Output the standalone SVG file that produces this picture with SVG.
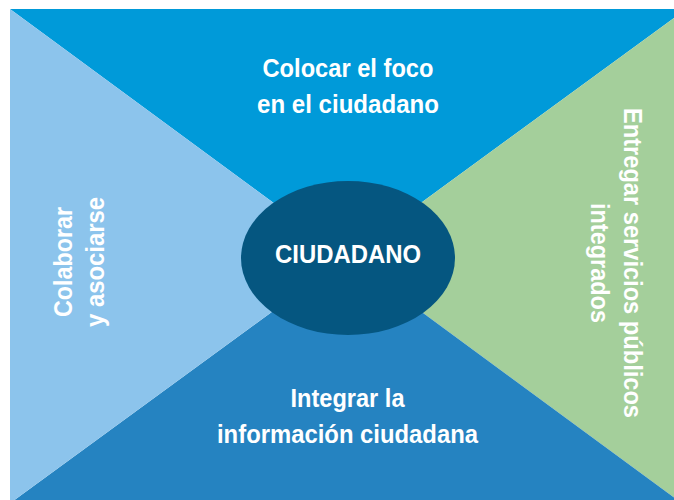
<svg xmlns="http://www.w3.org/2000/svg" width="674" height="500" viewBox="0 0 674 500">
<style>
.t{font-family:"Liberation Sans",Arial,sans-serif;font-weight:bold;font-size:26px;fill:#ffffff;text-anchor:middle}
</style>
<rect x="0" y="0" width="674" height="500" fill="#ffffff"/>
<g id="top">
<polygon points="10,9 674,9 674,18 347,257" fill="#009ad9"/>
<text class="t" x="348" y="77.3" textLength="171" lengthAdjust="spacingAndGlyphs">Colocar el foco</text>
<text class="t" x="348" y="112.7" textLength="182" lengthAdjust="spacingAndGlyphs">en el ciudadano</text>
</g>
<g id="right">
<polygon points="674,18 674,497.6 347,257" fill="#a4cf9b"/>
<text class="t" transform="translate(623.5,263) rotate(90)" x="0" y="0" textLength="310" lengthAdjust="spacingAndGlyphs">Entregar servicios públicos</text>
<text class="t" transform="translate(591,263) rotate(90)" x="0" y="0" textLength="120" lengthAdjust="spacingAndGlyphs">integrados</text>
</g>
<g id="bottom">
<polygon points="674,497.6 674,500 14.5,500 347,257" fill="#2583c1"/>
<text class="t" x="347.5" y="407.3" textLength="114" lengthAdjust="spacingAndGlyphs">Integrar la</text>
<text class="t" x="347.5" y="442.7" textLength="261" lengthAdjust="spacingAndGlyphs">información ciudadana</text>
</g>
<g id="left">
<polygon points="10,9 347,257 14.5,500 10,500" fill="#8cc4ec"/>
<text class="t" transform="translate(72,262) rotate(-90)" x="0" y="0" textLength="110" lengthAdjust="spacingAndGlyphs">Colaborar</text>
<text class="t" transform="translate(104,262) rotate(-90)" x="0" y="0" textLength="130" lengthAdjust="spacingAndGlyphs">y asociarse</text>
</g>
<g id="center">
<ellipse cx="348" cy="258" rx="107" ry="77" fill="#055680"/>
<text class="t" x="348" y="263.3" textLength="146" lengthAdjust="spacingAndGlyphs">CIUDADANO</text>
</g>
<g id="connectors"/>
</svg>
